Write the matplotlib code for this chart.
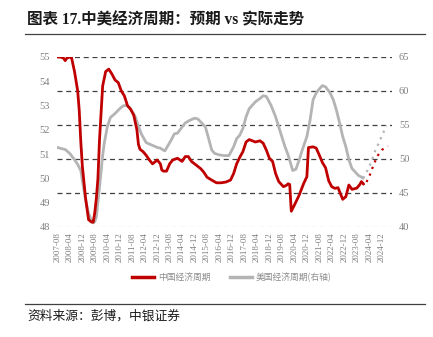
import matplotlib
matplotlib.use("Agg")
import matplotlib.pyplot as plt
import matplotlib.dates as mdates
import pandas as pd
from matplotlib.lines import Line2D

plt.rcParams['font.family'] = ['Liberation Serif', 'Noto Sans CJK SC', 'DejaVu Sans']

# China economic cycle (left axis), solid part
cn_dates = ['2007-08', '2007-10', '2007-12', '2008-01', '2008-02', '2008-04', '2008-05', '2008-07',
            '2008-09', '2008-10', '2008-11', '2008-12', '2009-02', '2009-04', '2009-06', '2009-07',
            '2009-08', '2009-09', '2009-10', '2009-11', '2010-01', '2010-03', '2010-05', '2010-07',
            '2010-09', '2010-11', '2011-01', '2011-03', '2011-05', '2011-07', '2011-09', '2011-11',
            '2011-12', '2012-01', '2012-03', '2012-05', '2012-07', '2012-09', '2012-10', '2012-12',
            '2013-02', '2013-03', '2013-04', '2013-06', '2013-08', '2013-10', '2014-01', '2014-04',
            '2014-06', '2014-08', '2014-10', '2015-01', '2015-04', '2015-06', '2015-08', '2015-11',
            '2016-02', '2016-05', '2016-08', '2016-11', '2017-01', '2017-03', '2017-05', '2017-07',
            '2017-09', '2017-11', '2018-01', '2018-03', '2018-06', '2018-08', '2018-10', '2018-12',
            '2019-02', '2019-04', '2019-06', '2019-09', '2019-11', '2019-12', '2020-01', '2020-02',
            '2020-04', '2020-07', '2020-10', '2020-12', '2021-01', '2021-04', '2021-06', '2021-08',
            '2021-10', '2021-12', '2022-02', '2022-04', '2022-06', '2022-08', '2022-10', '2022-11',
            '2023-01', '2023-03', '2023-05', '2023-08', '2023-10', '2023-11', '2023-12']
cn_values = [55.0, 55.0, 54.95, 54.85, 54.95, 55.0, 55.0, 54.4,
             53.6, 52.8, 51.5, 50.5, 49.2, 48.3, 48.2, 48.2,
             48.6, 49.2, 50.0, 51.6, 53.8, 54.4, 54.5, 54.3,
             54.05, 53.95, 53.6, 53.4, 53.0, 52.85, 52.6, 52.0,
             51.4, 51.2, 51.1, 50.95, 50.76, 50.6, 50.65, 50.76,
             50.6, 50.35, 50.3, 50.3, 50.6, 50.76, 50.83, 50.7,
             50.9, 50.9, 50.7, 50.55, 50.4, 50.25, 50.05, 49.93,
             49.82, 49.82, 49.85, 49.93, 50.2, 50.6, 50.87, 51.1,
             51.5, 51.6, 51.55, 51.5, 51.55, 51.45, 51.17, 50.83,
             50.7, 50.2, 49.87, 49.66, 49.72, 49.78, 49.75, 48.65,
             48.9, 49.3, 49.8, 50.07, 51.27, 51.3, 51.25, 50.96,
             50.65, 50.44, 49.9, 49.66, 49.59, 49.62, 49.3, 49.14,
             49.25, 49.73, 49.55, 49.6, 49.75, 49.87, 49.8]

# China expected (dotted)
cn_fc_dates = ['2023-12', '2024-01', '2024-04', '2024-06', '2024-09', '2024-12', '2025-04']
cn_fc_values = [49.8, 49.7, 50.07, 50.42, 50.9, 51.17, 51.33]

# US economic cycle (right axis), solid part
us_dates = ['2007-08', '2007-11', '2008-01', '2008-04', '2008-07', '2008-09', '2008-11', '2008-12',
            '2009-02', '2009-04', '2009-06', '2009-07', '2009-08', '2009-09', '2009-11', '2010-01',
            '2010-02', '2010-04', '2010-06', '2010-09', '2010-12', '2011-02', '2011-04', '2011-06',
            '2011-08', '2011-10', '2011-12', '2012-02', '2012-05', '2012-09', '2012-12', '2013-02',
            '2013-04', '2013-05', '2013-07', '2013-09', '2013-11', '2014-01', '2014-04', '2014-06',
            '2014-09', '2014-12', '2015-02', '2015-05', '2015-07', '2015-09', '2015-11', '2016-01',
            '2016-04', '2016-07', '2016-10', '2017-01', '2017-03', '2017-05', '2017-07', '2017-09',
            '2017-11', '2018-03', '2018-06', '2018-08', '2018-10', '2019-01', '2019-04', '2019-07',
            '2019-10', '2019-12', '2020-01', '2020-03', '2020-05', '2020-07', '2020-09', '2020-12',
            '2021-02', '2021-04', '2021-06', '2021-08', '2021-10', '2021-12', '2022-03', '2022-05',
            '2022-07', '2022-09', '2022-11', '2023-01', '2023-03', '2023-05', '2023-09', '2023-12']
us_values = [51.7, 51.5, 51.4, 50.8, 49.9, 49.2, 48.3, 46.8,
             44.0, 42.0, 40.9, 40.6, 40.8, 41.5, 45.9, 50.5,
             52.3, 54.7, 56.1, 56.7, 57.4, 57.8, 57.9, 57.6,
             57.0, 56.2, 54.8, 53.6, 52.4, 52.0, 51.7, 51.6,
             51.3, 51.2, 52.0, 52.8, 53.7, 53.8, 54.7, 55.3,
             55.7, 56.0, 55.9, 55.2, 54.7, 53.0, 51.3, 50.8,
             50.6, 50.5, 50.5, 51.8, 53.0, 53.5, 54.5, 56.2,
             57.4, 58.4, 58.9, 59.3, 59.2, 57.9, 56.2, 54.0,
             51.8, 50.6, 49.8, 48.3, 48.5, 49.8, 51.3, 53.3,
             55.7, 58.7, 59.7, 60.3, 60.8, 60.6, 59.7, 58.7,
             57.2, 55.3, 53.3, 51.8, 49.9, 48.6, 47.6, 47.2]

# US expected (dotted)
us_fc_dates = ['2023-12', '2024-02', '2024-05', '2024-08', '2024-11', '2025-03']
us_fc_values = [47.2, 47.9, 49.4, 51.3, 52.8, 54.9]

tick_dates = pd.date_range('2007-08-01', '2024-12-01', freq='8MS')

red = '#C00000'
grey = '#B4B4B4'
txt = '#7F7F7F'

fig = plt.figure(figsize=(4.33, 3.37), dpi=100)
ax = fig.add_axes([57 / 433, 1 - 227 / 337, 335 / 433, 170 / 337])
ax2 = ax.twinx()
ax.set_zorder(2)
ax2.set_zorder(1)
ax.patch.set_visible(False)

ax2.plot(pd.to_datetime(us_dates), us_values, color=grey, lw=2.0, solid_joinstyle='round')
ax2.plot(pd.to_datetime(us_fc_dates), us_fc_values, color=grey, lw=1.6, ls=(0, (1, 2.2)))
ax.plot(pd.to_datetime(cn_dates), cn_values, color=red, lw=2.0, solid_joinstyle='round')
ax.plot(pd.to_datetime(cn_fc_dates), cn_fc_values, color=red, lw=1.6, ls=(0, (1, 2.2)))

ax.set_ylim(48, 55)
ax.set_yticks(range(48, 56))
ax2.set_ylim(40, 65)
ax2.set_yticks(range(40, 66, 5))
ax.set_xlim(pd.Timestamp('2007-07-25'), pd.Timestamp('2025-06-20'))
ax.set_xticks(tick_dates)
ax.xaxis.set_major_formatter(mdates.DateFormatter('%Y-%m'))

ax2.yaxis.grid(True, color='#404040', ls=(0, (4, 3)), lw=0.9)
ax2.get_ygridlines()[0].set_color('#C8C8C8')

for a in (ax, ax2):
    for s in a.spines.values():
        s.set_visible(False)
ax.tick_params(axis='y', length=0, pad=5, labelsize=7.5, labelcolor=txt)
ax2.tick_params(axis='y', length=0, pad=5, labelsize=7.5, labelcolor=txt)
ax.tick_params(axis='x', length=0, pad=4, labelsize=6.5, labelcolor=txt, labelrotation=90)

handles = [Line2D([], [], color=red, lw=2.5), Line2D([], [], color=grey, lw=2.5)]
fig.legend(handles, ['中国经济周期', '美国经济周期(右轴)'], loc='center',
           bbox_to_anchor=(0.535, 1 - 277 / 337), ncol=2, frameon=False,
           prop={'family': ['Noto Sans CJK SC'], 'size': 6.3}, labelcolor='#8C8C8C',
           handlelength=2.6, columnspacing=2.2, handletextpad=0.4)

fig.text(27 / 433, 1 - 20 / 337, '图表 17.中美经济周期：预期 vs 实际走势', fontsize=11.2,
         fontweight='bold', va='center', ha='left', color='#1a1a1a')
fig.add_artist(Line2D([25 / 433, 425 / 433], [1 - 34 / 337, 1 - 34 / 337],
                      color='#404040', lw=0.9, transform=fig.transFigure))
fig.add_artist(Line2D([25 / 433, 425 / 433], [1 - 304 / 337, 1 - 304 / 337],
                      color='#404040', lw=0.9, transform=fig.transFigure))
fig.text(27 / 433, 1 - 316 / 337, '资料来源：彭博，中银证券', fontsize=9.2,
         family=['Noto Sans CJK SC'], va='center', ha='left', color='#1a1a1a', style='italic')

fig.savefig('out.png', dpi=100)
